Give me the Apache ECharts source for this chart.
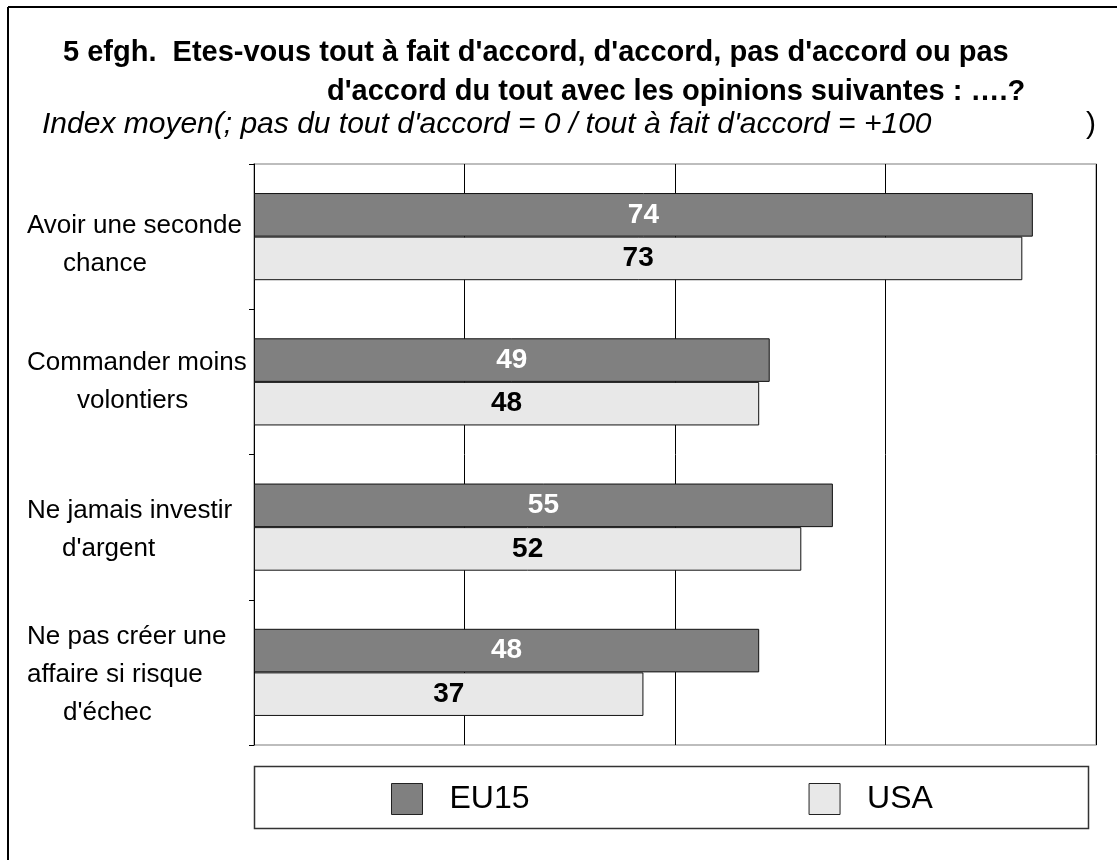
<!DOCTYPE html>
<html>
<head>
<meta charset="utf-8">
<script src="https://cdn.jsdelivr.net/npm/echarts@6/dist/echarts.min.js"></script>
<style>
html,body{margin:0;padding:0;background:#fff;}
#chart{width:1117px;height:860px;}
</style>
</head>
<body>
<div id="chart"></div>
<script>
var categories = ["Avoir une seconde\nchance", "Commander moins\nvolontiers", "Ne jamais investir\nd'argent", "Ne pas créer une\naffaire si risque\nd'échec"];
var seriesNames = ["EU15", "USA"];
var eu15 = [74, 49, 55, 48];
var usa = [73, 48, 52, 37];
var titleLine1 = "5 efgh.  Etes-vous tout à fait d'accord, d'accord, pas d'accord ou pas";
var titleLine2 = "d'accord du tout avec les opinions suivantes : ….?";
var subtitleText = "Index moyen(; pas du tout d'accord = 0 / tout à fait d'accord = +100";

// layout: indentation (px) of continuation lines and downward nudge (px) per category label
var indents = [[0, 36], [0, 50], [0, 35], [0, 0, 36]];
var nudges = [8, 0, 3, 2];

var chart = echarts.init(document.getElementById('chart'), null, {renderer: 'canvas'});
var font = '"Liberation Sans", Arial, sans-serif';

var rich = {};
for (var k = 0; k <= 60; k++) {
  rich['p' + k] = {fontSize: 26, fontFamily: font, color: '#000', lineHeight: 38, padding: [0, 0, 0, k]};
}
for (var n = 1; n <= 20; n++) {
  rich['s' + n] = {fontSize: 1, lineHeight: n * 2, color: 'rgba(0,0,0,0)'};
}

chart.setOption({
  backgroundColor: '#fff',
  animation: false,
  title: [
    {text: titleLine1, left: 63, top: 38, padding: 0, textStyle: {fontFamily: font, fontWeight: 'bold', fontSize: 29, color: '#000'}},
    {text: titleLine2, left: 327, top: 77, padding: 0, textStyle: {fontFamily: font, fontWeight: 'bold', fontSize: 29, color: '#000'}},
    {text: subtitleText, left: 42, top: 110, padding: 0, textStyle: {fontFamily: font, fontStyle: 'italic', fontWeight: 'normal', fontSize: 30, color: '#000'}},
    {text: ')', left: 1086, top: 110, padding: 0, textStyle: {fontFamily: font, fontStyle: 'normal', fontWeight: 'normal', fontSize: 30, color: '#000'}}
  ],
  graphic: [
    {type: 'line', shape: {x1: 8, y1: 7, x2: 1117, y2: 7}, style: {stroke: '#000', lineWidth: 2}, silent: true},
    {type: 'line', shape: {x1: 8, y1: 7, x2: 8, y2: 860}, style: {stroke: '#000', lineWidth: 2}, silent: true},
    {type: 'rect', shape: {x: 254.5, y: 766.5, width: 834, height: 62}, style: {fill: 'none', stroke: '#333', lineWidth: 1.5}, silent: true, z: 0}
  ],
  legend: {
    left: 391, top: 783, padding: 0,
    itemWidth: 31, itemHeight: 31, itemGap: 279,
    icon: 'rect',
    data: seriesNames,
    textStyle: {fontFamily: font, fontSize: 32, color: '#000', padding: [3, 0, 0, 22]},
    itemStyle: {borderColor: '#222', borderWidth: 1}
  },
  grid: {left: 254, top: 164, right: 21, bottom: 115, show: true, borderColor: '#a8a8a8', borderWidth: 1.5, containLabel: false},
  xAxis: {
    type: 'value', min: 0, max: 80, interval: 20,
    axisLabel: {show: false}, axisTick: {show: false},
    axisLine: {show: false},
    splitLine: {show: true, lineStyle: {color: '#000', width: 1}}
  },
  yAxis: {
    type: 'category', inverse: true, data: categories,
    axisLine: {show: true, lineStyle: {color: '#000', width: 1}},
    axisTick: {show: true, length: 5, inside: false, lineStyle: {color: '#000'}},
    axisLabel: {
      align: 'left', margin: 227,
      fontFamily: font, fontSize: 26, color: '#000', lineHeight: 38,
      formatter: function (v, idx) {
        var lines = v.split('\n');
        var ind = indents[idx] || [];
        var out = lines.map(function (l, i) { return '{p' + (ind[i] || 0) + '|' + l + '}'; });
        if (nudges[idx]) out.unshift('{s' + nudges[idx] + '| }');
        return out.join('\n');
      },
      rich: rich
    }
  },
  series: [
    {
      name: seriesNames[0], type: 'bar', data: eu15,
      barGap: '0%', barCategoryGap: '40%',
      itemStyle: {color: '#808080', borderColor: '#111', borderWidth: 1},
      label: {show: true, position: 'inside', color: '#fff', fontWeight: 'bold', fontSize: 28, fontFamily: font}
    },
    {
      name: seriesNames[1], type: 'bar', data: usa,
      barGap: '0%', barCategoryGap: '40%',
      itemStyle: {color: '#e8e8e8', borderColor: '#111', borderWidth: 1},
      label: {show: true, position: 'inside', color: '#000', fontWeight: 'bold', fontSize: 28, fontFamily: font}
    }
  ]
});
</script>
</body>
</html>
